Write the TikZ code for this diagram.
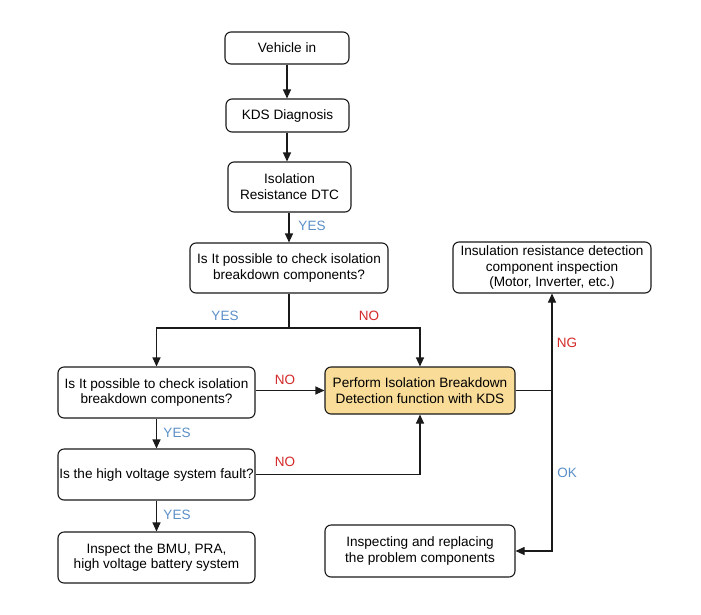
\documentclass[tikz,border=0pt]{standalone}
\usepackage{fontspec}
\setmainfont{Liberation Sans}
\usetikzlibrary{arrows.meta,positioning}
\definecolor{lblblue}{HTML}{5B8FC8}
\definecolor{lblred}{HTML}{D42A2A}
\definecolor{boxyel}{HTML}{F9DC98}
\definecolor{edge}{HTML}{1A1A1A}
\begin{document}
\begin{tikzpicture}[x=1pt,y=-1pt,
  box/.style={draw=edge,line width=1.1pt,rounded corners=6pt,fill=white,align=center,
    font=\fontsize{13.6}{15.8}\selectfont,inner sep=0pt},
  conn/.style={draw=edge,line width=1.1pt,-{Triangle[length=9pt,width=8pt]}},
  line/.style={draw=edge,line width=1.1pt},
  yes/.style={text=lblblue,font=\fontsize{13.5}{15}\selectfont},
  no/.style={text=lblred,font=\fontsize{13.5}{15}\selectfont}]
\useasboundingbox (0,0) rectangle (701,614);
\fill[white] (0,0) rectangle (701,614);
\node[box,minimum width=124pt,minimum height=32pt] (veh) at (287,48) {Vehicle in};
\node[box,minimum width=123pt,minimum height=33pt] (kds) at (287.5,115.5) {KDS Diagnosis};
\node[box,minimum width=123pt,minimum height=50pt] (dtc) at (289.5,187) {Isolation\\Resistance DTC};
\node[box,minimum width=198pt,minimum height=50pt] (q1) at (289,268) {Is It possible to check isolation\\breakdown components?};
\node[box,minimum width=198pt,minimum height=51pt] (ins) at (552,267.5) {Insulation resistance detection\\component inspection\\(Motor, Inverter, etc.)};
\node[box,minimum width=197pt,minimum height=51pt] (q2) at (156.5,392.5) {Is It possible to check isolation\\breakdown components?};
\node[box,fill=boxyel,minimum width=190pt,minimum height=47pt] (perf) at (420,390.5) {Perform Isolation Breakdown\\Detection function with KDS};
\node[box,minimum width=197pt,minimum height=51pt] (q3) at (156.5,474.5) {Is the high voltage system fault?};
\node[box,minimum width=197pt,minimum height=51pt] (bmu) at (156.5,557.5) {Inspect the BMU, PRA,\\high voltage battery system};
\node[box,minimum width=190pt,minimum height=52pt] (rep) at (420,551) {Inspecting and replacing\\the problem components};

\coordinate (split) at (q1.south |- 0,328);
\coordinate (jn) at (552,0 |- perf.east);
\coordinate (jr) at (552,0 |- rep.east);

\draw[conn] (veh.south -| 287,0) -- (kds.north -| 287,0);
\draw[conn] (kds.south -| 287,0) -- (dtc.north -| 287,0);
\draw[conn] (dtc.south -| q1.north) -- (q1.north);
\draw[line] (q1.south) -- (split);
\draw[conn] (split) -| (q2.north);
\draw[conn] (split) -| (perf.north);
\draw[conn] (q2.east |- perf.west) -- (perf.west);
\draw[conn] (q2) -- (q3);
\draw[conn] (q3) -- (bmu);
\draw[conn] (q3.east) -| (perf.south);
\draw[line] (perf.east) -- (jn);
\draw[conn] (jr) -- (ins.south);
\draw[conn] (jn) |- (rep.east);

\node[yes] (y1) at (312,226) {YES};
\node[yes] (y2) at (225,316) {YES};
\node[no] (n1) at (369,316) {NO};
\node[no] (n2) at (285,380) {NO};
\node[yes] (y3) at (177,433) {YES};
\node[no] (n3) at (285,462) {NO};
\node[yes] (y4) at (177,515) {YES};
\node[no] (ng) at (567,343) {NG};
\node[yes] (ok) at (567,473) {OK};
\end{tikzpicture}
\end{document}
